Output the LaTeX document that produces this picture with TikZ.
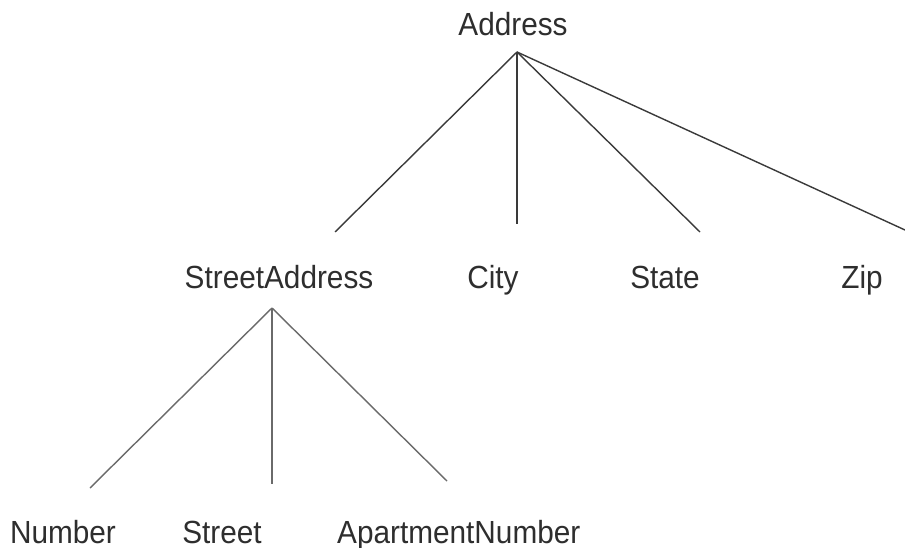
\documentclass[tikz,border=0pt]{standalone}
\usepackage{fontspec}
\usepackage{graphicx}
\setmainfont{Liberation Sans}
\definecolor{linecol}{HTML}{3A3A3A}
\definecolor{linecolb}{HTML}{6A6A6A}
\definecolor{txtcol}{HTML}{2E2E2E}
\newcommand{\narrowtxt}[1]{\scalebox{0.93}[1]{#1}}
\begin{document}
\begin{tikzpicture}[x=1pt,y=-1pt,
  lbl/.style={inner sep=0pt,anchor=base,text=txtcol,font=\fontsize{32}{34}\selectfont},
  edge/.style={draw=linecol,line width=1.4pt},
  edgeb/.style={draw=linecolb,line width=1.4pt}]
\useasboundingbox[fill=white] (0,0) rectangle (905,548);
% labels
\node[lbl] (address) at (513,36) {\narrowtxt{Address}};
\node[lbl] (streetaddress) at (279,288) {\narrowtxt{StreetAddress}};
\node[lbl] (city) at (493,288) {\narrowtxt{City}};
\node[lbl] (state) at (665,288) {\narrowtxt{State}};
\node[lbl] (zip) at (862,288) {\narrowtxt{Zip}};
\node[lbl] (number) at (63,543) {\narrowtxt{Number}};
\node[lbl] (street) at (222,543) {\narrowtxt{Street}};
\node[lbl,anchor=base west] (aptnum) at (337,543) {\narrowtxt{ApartmentNumber}};
% connector points
\coordinate (top) at (517,52);
\coordinate (sa) at (335,232);
\coordinate (ci) at (517,224);
\coordinate (st) at (700,232);
\coordinate (zi) at (905,230);
\coordinate (sat) at (272,308);
\coordinate (nu) at (90,488);
\coordinate (sr) at (272,484);
\coordinate (ap) at (447,481);
% edges
\draw[edge] (top) -- (sa);
\draw[edge] (top) -- (ci);
\draw[edge] (top) -- (st);
\draw[edge] (top) -- (zi);
\draw[edgeb] (sat) -- (nu);
\draw[edgeb] (sat) -- (sr);
\draw[edgeb] (sat) -- (ap);
\end{tikzpicture}
\end{document}
